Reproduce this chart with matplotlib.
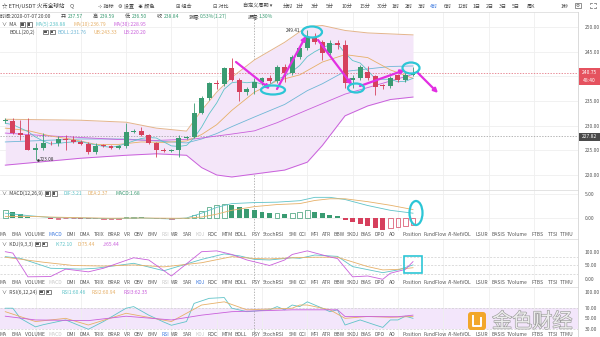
import matplotlib
matplotlib.use("Agg")
import matplotlib.pyplot as plt
from matplotlib.patches import Ellipse, Rectangle, FancyArrowPatch, FancyBboxPatch
import matplotlib.patheffects as pe

plt.rcParams['font.family'] = ['Noto Sans CJK SC', 'DejaVu Sans']

W, H = 600, 337
fig = plt.figure(figsize=(W / 100, H / 100), dpi=100)
fig.patch.set_facecolor('white')

GREEN = '#3a9b72'
RED = '#d6405d'
TEAL = '#5fc3c8'
BLUE_TEAL = '#6fb7d6'
ORANGE = '#e6b068'
TAN = '#e3b48c'
PURPLE = '#c95fdb'
GRID = '#efefef'
TXT = '#444444'
LIGHT = '#c9c9c9'
BLUE = '#3f7be0'

# ---------------- candles (ETH/USDT, 4h) ----------------
opens = [230.9, 231.0, 228.6, 228.2, 225.1, 225.5, 226.5, 226.4, 227.3, 227.1,
         226.7, 226.3, 224.7, 226.0, 225.9, 225.4, 225.9, 228.8, 229.0, 228.1,
         226.5, 225.1, 224.9, 225.0, 227.5, 227.7, 232.6, 235.6, 238.6, 238.4,
         241.6, 239.2, 236.8, 237.57, 238.84, 239.6, 239.0, 241.9, 240.7, 243.9,
         245.7, 247.9, 247.0, 244.7, 246.8, 246.4, 239.2, 239.6, 240.9, 240.0,
         238.1, 238.0, 240.3, 239.3, 240.3]
highs = [231.5, 231.6, 231.1, 231.6, 226.5, 228.6, 226.9, 227.9, 228.1, 228.0,
         227.0, 226.6, 226.5, 226.2, 226.1, 226.1, 230.6, 229.3, 229.8, 228.3,
         226.7, 225.4, 225.3, 228.2, 228.0, 234.6, 236.0, 238.9, 239.2, 241.9,
         243.7, 239.6, 237.9, 239.59, 239.9, 240.3, 242.3, 242.4, 244.3, 246.2,
         249.41, 248.8, 247.3, 247.4, 247.3, 247.4, 240.2, 242.3, 242.0, 240.3,
         238.4, 240.0, 240.5, 240.9, 241.8]
lows = [230.5, 228.3, 227.1, 225.0, 223.08, 225.1, 226.0, 225.8, 225.1, 226.5,
        226.1, 224.2, 224.2, 225.6, 225.2, 225.2, 225.5, 228.6, 227.9, 226.3,
        223.7, 224.6, 224.6, 223.7, 227.3, 227.5, 232.3, 235.2, 237.4, 238.0,
        239.0, 235.0, 236.2, 236.50, 238.3, 238.6, 238.7, 238.9, 240.3, 243.5,
        245.3, 246.6, 243.3, 244.3, 245.6, 237.6, 237.6, 239.3, 239.3, 236.2,
        237.5, 237.6, 238.9, 238.8, 240.0]
closes = [231.0, 228.6, 228.2, 225.1, 225.5, 226.5, 226.4, 227.3, 227.1, 226.7,
          226.3, 224.7, 225.9, 225.9, 225.4, 225.9, 228.8, 229.0, 228.1, 226.5,
          225.1, 224.9, 225.0, 227.5, 227.7, 232.6, 235.6, 238.6, 238.4, 241.6,
          239.2, 236.8, 237.5, 238.84, 239.6, 239.0, 241.9, 240.7, 243.9, 245.7,
          247.9, 247.0, 244.7, 246.8, 246.4, 238.6, 239.6, 241.9, 239.6, 237.8,
          238.0, 239.7, 239.3, 240.3, 240.75]
idx = list(range(len(closes)))

# ---------------- moving averages / bollinger (sampled) ----------------
ma5 = [230.5, 230.2, 229.5, 228.8, 227.7, 226.9, 226.3, 226.4, 226.6, 226.7,
       226.8, 226.4, 226.1, 225.8, 225.6, 225.9, 226.4, 226.9, 227.4, 227.6,
       227.5, 226.7, 225.9, 225.8, 226.0, 227.5, 229.7, 232.4, 234.6, 237.4,
       238.7, 238.9, 238.7, 238.88, 238.4, 238.3, 239.4, 240.0, 241.0, 242.2,
       244.0, 245.0, 245.8, 246.4, 246.6, 244.7, 243.2, 242.7, 241.2, 239.5,
       239.4, 239.4, 238.9, 239.0, 239.6]
ma10_i = [0, 3, 6, 9, 12, 15, 18, 21, 24, 26, 28, 30, 33, 36, 39, 42, 45, 48, 51, 54]
ma10 = [229.5, 229.0, 227.9, 227.2, 226.2, 226.2, 226.7, 226.6, 226.9, 228.2,
        230.2, 233.1, 236.79, 239.1, 240.3, 242.9, 244.4, 243.8, 241.3, 239.6]
ma30_i = [0, 5, 10, 15, 20, 25, 30, 33, 36, 40, 45, 50, 54]
ma30 = [228.5, 228.0, 227.6, 227.2, 227.0, 227.3, 228.3, 228.95, 230.6, 233.2,
        236.4, 238.6, 240.4]
boll_i = [0, 5, 10, 16, 20, 24, 26, 28, 30, 33, 37, 40, 42, 45, 48, 51, 54]
boll_ub = [231.3, 231.2, 231.1, 230.7, 229.5, 228.9, 233.1, 236.8, 239.8, 243.33,
           246.9, 250.1, 250.3, 249.3, 248.8, 248.6, 248.4]
boll_lb = [222.0, 222.7, 223.4, 224.0, 224.3, 224.0, 221.5, 220.0, 219.6, 220.2,
           221.0, 222.6, 226.0, 232.0, 234.0, 235.3, 235.8]
boll_mid = [226.7, 227.0, 227.3, 227.3, 226.9, 226.5, 227.3, 228.4, 229.8, 231.76,
            234.3, 237.1, 238.5, 241.0, 241.5, 242.0, 242.1]

# ---------------- MACD ----------------
macd_hist = [1.7, 1.3, 0.85, 0.3, 0.05, -0.05, -0.15, -0.12, -0.1, -0.08,
             -0.12, -0.25, -0.3, -0.2, -0.2, -0.15, 0.2, 0.3, 0.25, 0.05,
             -0.2, -0.3, -0.25, -0.05, 0.1, 0.6, 1.5, 2.3, 2.8, 3.0,
             2.8, 2.2, 1.8, 1.68, 1.3, 1.0, 1.1, 0.85, 1.1, 1.35,
             1.7, 1.3, 0.95, 0.6, 0.4, -0.35, -0.75, -1.25, -1.6, -2.1,
             -2.4, -2.1, -1.9, -1.7, -1.45]
macd_i = [0, 3, 6, 10, 14, 18, 22, 24, 26, 28, 30, 33, 36, 39, 41, 43, 45, 48, 51, 54]
dif = [1.0, 0.5, 0.1, 0.0, -0.15, 0.0, -0.2, 0.0, 1.0, 2.2, 3.0, 3.21, 3.3, 3.6,
       4.3, 4.3, 3.85, 2.6, 1.6, 1.0]
dea = [0.3, 0.35, 0.2, 0.05, -0.05, 0.0, -0.05, -0.05, 0.2, 0.8, 1.6, 2.37, 2.8,
       3.0, 3.65, 4.0, 4.0, 3.4, 2.65, 1.75]

# ---------------- KDJ ----------------
k_i = [0, 2, 6, 10, 12, 17, 21, 26, 29, 31, 33, 35, 38, 39, 41, 44, 46, 50, 52, 54]
k_val = [82, 76, 40, 37, 40, 58, 31, 72, 92, 85, 72.1, 70, 78, 76, 88, 83, 46, 24, 34, 52]
d_i = [0, 5, 9, 13, 17, 21, 26, 30, 33, 35, 38, 41, 44, 48, 50, 52, 54]
d_val = [80, 62, 50, 48, 52, 45, 60, 82, 75.44, 74, 78, 80, 80, 46, 34, 36, 42]
j_i = [0, 1, 3, 6, 8, 11, 13, 17, 19, 22, 26, 28, 30, 32, 35, 37, 38, 40, 43, 44,
       46, 48, 50, 51, 53, 54]
j_val = [100, 95, 9, 10, 37, 27, 40, 78, 70, 12, 100, 103, 90, 70, 50, 70, 90,
         103, 81, 75, 9, 12, 0, 22, 36, 64]

# ---------------- RSI ----------------
rsi1_i = [0, 1, 2, 4, 5, 8, 11, 13, 16, 17, 19, 21, 22, 24, 25, 27, 29, 30, 32,
          35, 36, 37, 38, 39, 40, 42, 43, 44, 45, 47, 49, 50, 51, 52, 53, 54]
rsi1 = [69, 69, 50, 34, 38, 47, 29.5, 44, 69, 72, 56, 43, 37, 44, 78, 87.5, 89,
        69, 62.5, 66, 72, 66, 75, 72, 81, 69, 62.5, 66, 37.5, 47, 37.5, 33, 47, 47,
        54, 50]
rsi2_i = [0, 4, 8, 11, 16, 22, 26, 29, 32, 38, 39, 40, 43, 45, 48, 51, 54]
rsi2 = [62.5, 44, 50, 37.5, 59.5, 44, 75, 81, 66, 69, 75, 75, 66, 50, 53.5, 52, 53.5]
rsi3_i = [0, 4, 11, 16, 22, 26, 30, 38, 39, 44, 45, 52, 54]
rsi3 = [54, 47, 45.7, 54, 47, 56, 62.5, 66, 66, 66, 53.5, 53, 56]

last_price = 240.75
cross_price = 227.82
cross_i = 33

# ---------------- layout helpers ----------------
X0 = (0 - 5.3) / 7.55
X1 = (578 - 5.3) / 7.55
day_lines = list(range(4, 76, 6))


def panel(top, bottom, ylim, ticks, labels):
    ax = fig.add_axes([0, 1 - bottom / H, 578 / W, (bottom - top) / H])
    ax.set_xlim(X0, X1)
    ax.set_ylim(*ylim)
    for s in ax.spines.values():
        s.set_visible(False)
    ax.set_xticks(day_lines)
    ax.tick_params(axis='x', length=0, labelbottom=False)
    ax.yaxis.tick_right()
    ax.set_yticks(ticks)
    ax.set_yticklabels(labels)
    ax.tick_params(axis='y', length=0, pad=5, labelsize=3.6, labelcolor='#555555')
    ax.grid(True, color=GRID, lw=0.6)
    ax.set_axisbelow(True)
    ax.axvline(cross_i, color='#999999', lw=0.5, ls=(0, (2, 2)), zorder=1)
    return ax


# ---------------- main price panel ----------------
ax = panel(12, 190, (216.96, 253.04), [220, 225, 230, 235, 240, 245, 250],
           ['220.00', '225.00', '230.00', '235.00', '240.00', '245.00', '250.00'])
ax.fill_between(boll_i, boll_lb, boll_ub, color='#f4e6f9', lw=0, zorder=1)
ax.plot(boll_i, boll_ub, color=TAN, lw=0.7, zorder=2)
ax.plot(boll_i, boll_lb, color=PURPLE, lw=0.7, zorder=2)
ax.plot(boll_i, boll_mid, color=BLUE_TEAL, lw=0.6, zorder=2)
ax.plot(ma30_i, ma30, color=PURPLE, lw=0.6, zorder=2)
ax.plot(ma10_i, ma10, color=ORANGE, lw=0.6, zorder=2)
ax.plot(idx, ma5, color=TEAL, lw=0.6, zorder=2)
ax.axhline(last_price, color='#e06070', lw=0.5, ls=(0, (2, 2)), zorder=1)
ax.axhline(cross_price, color='#999999', lw=0.5, ls=(0, (2, 2)), zorder=1)

cols = [GREEN if c >= o else RED for o, c in zip(opens, closes)]
ax.vlines(idx, lows, highs, colors=cols, lw=0.6, zorder=3)
bottoms = [min(o, c) for o, c in zip(opens, closes)]
heights = [max(abs(c - o), 0.15) for o, c in zip(opens, closes)]
ax.bar(idx, heights, bottom=bottoms, width=0.66, color=cols, lw=0, zorder=4)
low_i = lows.index(min(lows))
ax.annotate(f'{min(lows):.2f}', xy=(low_i, min(lows)), xytext=(low_i + 0.6, min(lows)),
            fontsize=3.4, color='#333333', va='center')
ax.plot([low_i + 0.35], [min(lows)], marker='o', ms=0.9, color='#333333')
high_i = highs.index(max(highs))
ax.text(high_i - 0.9, max(highs) - 0.2, f'{max(highs):.2f}', fontsize=3.4,
        color='#333333', ha='right', va='center')

# ---------------- MACD panel ----------------
am = panel(190, 231, (-2.71, 5.83), [0, 5], ['0.00', '5.00'])
prev = 0.0
for i, v in enumerate(macd_hist):
    col = GREEN if v >= 0 else RED
    hollow = (v >= 0 and v > prev) or (v < 0 and v >= prev)
    if hollow:
        am.bar(i, v, width=0.62, fill=False, edgecolor=col, lw=0.5, zorder=3)
    else:
        am.bar(i, v, width=0.66, color=col, lw=0, zorder=3)
    prev = v
am.plot(macd_i, dif, color=TEAL, lw=0.6, zorder=4)
am.plot(macd_i, dea, color=ORANGE, lw=0.6, zorder=4)

# ---------------- KDJ panel ----------------
ak = panel(239, 281, (-6.16, 146.0), [0, 50, 100], ['0.00', '50.00', '100.00'])
ak.grid(False, axis='y')
for lv in (20, 50, 80):
    ak.axhline(lv, color='#cfcfcf', lw=0.5, ls=(0, (3, 2)), zorder=1)
ak.plot(k_i, k_val, color=TEAL, lw=0.6, zorder=3)
ak.plot(d_i, d_val, color=ORANGE, lw=0.6, zorder=3)
ak.plot(j_i, j_val, color=PURPLE, lw=0.6, zorder=3)

# ---------------- RSI panel ----------------
ar = panel(287, 337, (15.0, 108.8), [30, 50, 70, 100], ['30.00', '50.00', '70.00', '100.00'])
ar.grid(False, axis='y')
ar.axhspan(30, 70, color='#f3e6fb', lw=0, zorder=0)
for lv in (30, 70):
    ar.axhline(lv, color='#cfcfcf', lw=0.5, ls=(0, (3, 2)), zorder=1)
ar.plot(rsi1_i, rsi1, color=TEAL, lw=0.6, zorder=3)
ar.plot(rsi2_i, rsi2, color=ORANGE, lw=0.6, zorder=3)
ar.plot(rsi3_i, rsi3, color=PURPLE, lw=0.6, zorder=3)

# ---------------- overlay in pixel space ----------------
ov = fig.add_axes([0, 0, 1, 1], zorder=10)
ov.set_xlim(0, W)
ov.set_ylim(H, 0)
ov.axis('off')
ov.patch.set_alpha(0)

for yy in (12, 190, 238.5, 287):
    ov.plot([0, 578], [yy, yy], color='#dedede', lw=0.6)
ov.plot([578, 578], [12, H], color='#d5d5d5', lw=0.6)

fs = 3.7


def t(x, y, s, c=TXT, size=fs, **kw):
    ov.text(x, y, s, color=c, fontsize=size, va='center', ha='left', **kw)


def icons(x, y):
    for dx in (0, 6.5):
        ov.add_patch(Rectangle((x + dx, y - 2.4), 5, 4.8, facecolor='white',
                               edgecolor='#555555', lw=0.5))
        ov.add_patch(Rectangle((x + dx + 1.3, y - 1.1), 2.4, 2.2, facecolor='#555555',
                               lw=0))


# toolbar
t(2, 6, '☆ ETH/USDT 火币全球站', size=4.0, c='#333333')
t(70, 6, 'Q', size=4.0, c='#555555')
for x, s in [(98, '⊹ 指标'), (118, '⚙ 设置'), (138, '☀ 颜色'), (176, '⊞ 组合'),
             (213, '⊟ 对比'), (243, '自定义周期 ▾'), (283, '分时')]:
    t(x, 6, s, size=3.7)
periods = [(296, '1分'), (311, '3分'), (326, '5分'), (342, '10分'), (360, '15分'),
           (377, '30分'), (392, '1时'), (405, '2时'), (418, '3时'), (430, '4时'),
           (444, '6时'), (458, '12时'), (473, '1日'), (486, '2日'), (499, '3日'),
           (512, '5日'), (527, '周K')]
for x, s in periods:
    t(x, 6, s, c=BLUE if s == '4时' else TXT, size=3.7)
t(561, 6, '1秒', size=3.7)
# camera and full-screen buttons
ov.add_patch(Rectangle((575, 3), 6, 4.5, facecolor='none', edgecolor='#666666', lw=0.5))
ov.add_patch(Ellipse((578, 5.3), 2.3, 2.3, facecolor='none', edgecolor='#666666', lw=0.5))
for sx, sy in ((1, 1), (-1, 1), (1, -1), (-1, -1)):
    cx, cy = 593 - 2.8 * sx, 5.5 - 2.8 * sy
    ov.plot([cx, cx, cx + 1.6 * sx], [cy + 1.6 * sy, cy, cy], color='#666666', lw=0.5)

# info line
info = [(0, '时间:2020-07-07 20:00', TXT), (61, '开:', TXT), (68, '237.57', GREEN),
        (93, '高:', TXT), (100, '239.59', GREEN), (125, '低:', TXT), (132, '236.50', GREEN),
        (157, '收:', TXT), (164, '238.84', GREEN), (189, '涨幅:', TXT),
        (200, '0.53%(1.27)', GREEN), (248, '振幅:', TXT), (259, '1.30%', GREEN)]
for x, s, c in info:
    t(x, 16.5, s, c=c, size=3.6)

t(2, 24.5, '∨  MA', size=3.6)
icons(20, 24.5)
t(36, 24.5, 'MA(5):238.88', c=TEAL, size=3.6)
t(73, 24.5, 'MA(10):236.79', c=ORANGE, size=3.6)
t(113, 24.5, 'MA(30):228.95', c=PURPLE, size=3.6)
t(9, 32, 'BOLL(20,2)', size=3.6)
icons(43, 32)
t(58, 32, 'BOLL:231.76', c=BLUE_TEAL, size=3.6)
t(93, 32, 'UB:243.33', c=ORANGE, size=3.6)
t(124, 32, 'LB:220.20', c=PURPLE, size=3.6)

t(2, 193.5, '∨  MACD(12,26,9)', size=3.6)
icons(45, 193.5)
t(63, 193.5, 'DIF:3.21', c=TEAL, size=3.6)
t(87, 193.5, 'DEA:2.37', c=ORANGE, size=3.6)
t(116, 193.5, 'MACD:1.68', c=GREEN, size=3.6)

t(2, 244, '∨  KDJ(9,3,3)', size=3.6)
icons(35, 244)
t(55, 244, 'K:72.10', c=TEAL, size=3.6)
t(78, 244, 'D:75.44', c=ORANGE, size=3.6)
t(103, 244, 'J:65.44', c=PURPLE, size=3.6)

t(2, 292, '∨  RSI(6,12,24)', size=3.6)
icons(39, 292)
t(62, 292, 'RSI1:60.46', c=TEAL, size=3.6)
t(92, 292, 'RSI2:60.94', c=ORANGE, size=3.6)
t(124, 292, 'RSI3:62.35', c=PURPLE, size=3.6)

# indicator tab rows
tabs = [(3, 'MA'), (17, 'EMA'), (35, 'VOLUME'), (55, 'MACD'), (71, 'DMI'), (85, 'DMA'),
        (99, 'TRIX'), (114, 'BRAR'), (127, 'VR'), (138.5, 'OBV'), (153, 'EMV'), (165, 'RSI'),
        (175, 'WR'), (187, 'SAR'), (200, 'KDJ'), (212, 'ROC'), (227, 'MTM'), (241, 'BOLL'),
        (256, 'PSY'), (273, 'StochRSI'), (293, 'SMI'), (303, 'CCI'), (315, 'MFI'),
        (327, 'ATR'), (339, 'BBW'), (353, 'SKDJ'), (366, 'BIAS'), (380, 'DPO'), (392, 'AO'),
        (412, 'Position'), (435, 'FundFlow'), (460, 'AI-NetVOL'), (482, 'LSUR'),
        (498, 'BASIS'), (517, 'TVolume'), (538, 'FTBS'), (553, 'TTSI'), (567, 'TTMU')]
rows = [(235, 'MACD'), (283, 'KDJ'), (334.5, 'RSI')]
for y, active in rows:
    for x, s in tabs:
        if s == active:
            c = BLUE
        elif s in ('MACD', 'KDJ', 'RSI'):
            c = LIGHT
        else:
            c = '#555555'
        ov.text(x, y, s, color=c, fontsize=3.6, ha='center', va='center')

# price tags on the right axis
ov.add_patch(Rectangle((579, 67.5), 21, 17.5, facecolor='#e5525f', lw=0))
ov.text(589.5, 72.5, f'{last_price:.2f}', color='white', fontsize=3.6, ha='center', va='center')
ov.text(589.5, 80.5, '48:40', color='white', fontsize=3.6, ha='center', va='center')
ov.add_patch(Rectangle((579, 132.5), 21, 8.5, facecolor='#4a4a4a', lw=0))
ov.text(589.5, 136.7, f'{cross_price:.2f}', color='white', fontsize=3.6, ha='center', va='center')

# trend annotations
MAG = '#e22fe2'
CYAN = '#2cc6d6'
for (x0, y0), (x1, y1) in [((236, 62), (270, 89)), ((277, 89), (306, 36)),
                           ((318, 40), (352, 85)), ((360, 86), (405, 70)),
                           ((417, 72), (438, 93))]:
    ov.add_patch(FancyArrowPatch((x0, y0), (x1, y1), arrowstyle='-|>', mutation_scale=6,
                                 color=MAG, lw=1.6, shrinkA=0, shrinkB=0))
for (cx, cy), w, h in [((273, 90), 24, 9), ((312, 32), 20, 11), ((356, 88), 16, 9),
                       ((411, 68), 17, 11), ((416, 213), 13, 24)]:
    ov.add_patch(Ellipse((cx, cy), w, h, facecolor='none', edgecolor=CYAN, lw=1.6))
ov.add_patch(Rectangle((404, 256), 18, 17, facecolor='none', edgecolor=CYAN, lw=1.2))

# watermark
ov.add_patch(FancyBboxPatch((468, 312), 18, 18, boxstyle='round,pad=0,rounding_size=3',
                            facecolor='#f2a41f', lw=0, alpha=0.95))
ov.plot([473, 473, 481, 481], [316, 326, 326, 318], color='white', lw=1.4)
ov.text(492, 322, '金色财经', fontsize=14.5, color='#ececec', ha='left', va='center',
        path_effects=[pe.withStroke(linewidth=0.9, foreground='#9c9c9c')])

fig.savefig('out.png', dpi=100, facecolor='white')
